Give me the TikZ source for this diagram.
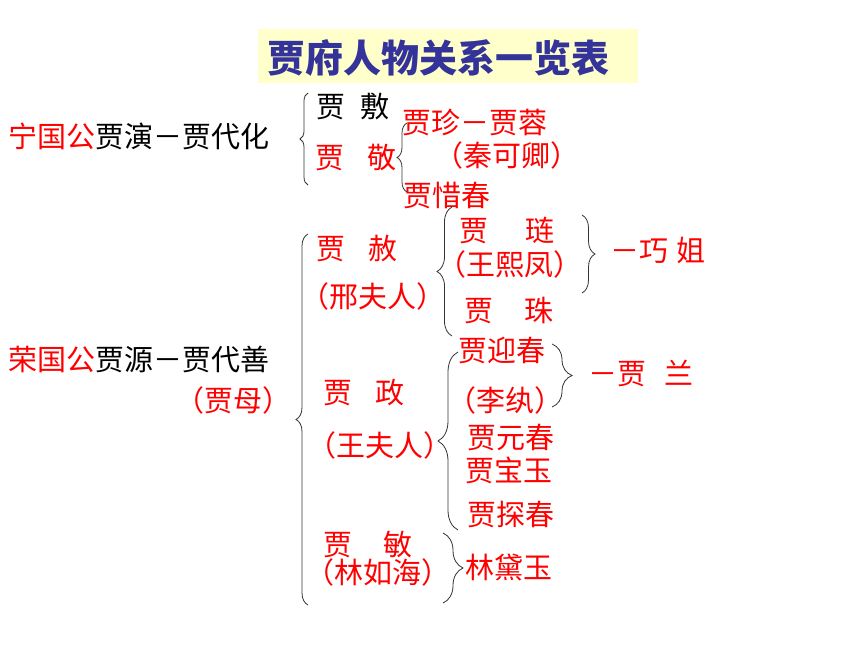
\documentclass[tikz,border=0pt]{standalone}
\usepackage{fontspec}
\newfontfamily\cjk{Noto Sans CJK SC}
\usetikzlibrary{decorations.pathreplacing}
\definecolor{titleblue}{HTML}{333399}
\definecolor{titlebg}{HTML}{FFFFCC}
\tikzset{
  person/.style={inner sep=0pt, font=\cjk\fontsize{29}{29}\selectfont},
  rperson/.style={person, text=red},
  brc/.style={decorate, decoration={brace, amplitude=#1}, line width=0.8pt, black!80},
}
\begin{document}
\begin{tikzpicture}[x=1pt,y=1pt]
\useasboundingbox (0,0) rectangle (860,-645);
\fill[titlebg] (258,-29) rectangle (638,-83);
\node (TITLE) at (438,-58) [inner sep=0pt, text=titleblue, font=\cjk\bfseries\fontsize{38}{38}\selectfont] {贾府人物关系一览表};

\node (NG) at (139,-136) [person] {{\color{red}宁国公}贾演－贾代化};
\node (RG) at (139,-359) [person] {{\color{red}荣国公}贾源－贾代善};
\node (JM) at (233,-400) [rperson] {（贾母）};

\node (JF) at (353,-107) [person] {贾\hspace{0.5em}敷};
\node (JJ) at (356,-158) [rperson] {贾\hspace{0.8em}敬};
\node (JZ) at (475,-122) [rperson] {贾珍－贾蓉};
\node (QKQ) at (507,-155) [rperson] {（秦可卿）};
\node (XC) at (447,-195) [rperson] {贾惜春};

\node (JS) at (357,-248) [rperson] {贾\hspace{0.8em}赦};
\node (XFR) at (373,-296) [rperson] {（邢夫人）};
\node (JL) at (507,-230) [rperson] {贾\hspace{1.25em}琏};
\node (WXF) at (510,-264) [rperson] {（王熙凤）};
\node (JZH) at (509,-310) [rperson] {贾\hspace{1.05em}珠};
\node (QJ) at (658,-250) [rperson] {－巧\hspace{0.25em}姐};

\node (JZE) at (364,-393) [rperson] {贾\hspace{0.8em}政};
\node (WFR) at (380,-445) [rperson] {（王夫人）};
\node (YC) at (502,-350) [rperson] {贾迎春};
\node (LW) at (505,-400) [rperson] {（李纨）};
\node (JLA) at (641,-373) [rperson] {－贾\hspace{0.6em}兰};
\node (YUC) at (511,-437) [rperson] {贾元春};
\node (BY) at (509,-470) [rperson] {贾宝玉};
\node (TC) at (511,-514) [rperson] {贾探春};

\node (JMI) at (368,-545) [rperson] {贾\hspace{1.05em}敏};
\node (LRH) at (378,-572) [rperson] {（林如海）};
\node (DY) at (509,-568) [rperson] {林黛玉};

\coordinate (B1a) at (308,-185); \coordinate (B1b) at (308,-93);
\coordinate (B2a) at (407,-192); \coordinate (B2b) at (407,-123);
\coordinate (B3a) at (308,-605); \coordinate (B3b) at (308,-234);
\coordinate (B4a) at (452,-336); \coordinate (B4b) at (452,-207);
\coordinate (B5a) at (582,-215); \coordinate (B5b) at (582,-293);
\coordinate (B6a) at (458,-530); \coordinate (B6b) at (458,-352);
\coordinate (B7a) at (552,-344); \coordinate (B7b) at (552,-407);
\coordinate (B8a) at (443,-533); \coordinate (B8b) at (443,-603);
\draw[brc=8pt] (B1a) -- (B1b);
\draw[brc=10pt] (B2a) -- (B2b);
\draw[brc=12pt] (B3a) -- (B3b);
\draw[brc=15pt] (B4a) -- (B4b);
\draw[brc=13pt] (B5a) -- (B5b);
\draw[brc=20pt] (B6a) -- (B6b);
\draw[brc=20pt] (B7a) -- (B7b);
\draw[brc=20pt] (B8a) -- (B8b);

\end{tikzpicture}
\end{document}
